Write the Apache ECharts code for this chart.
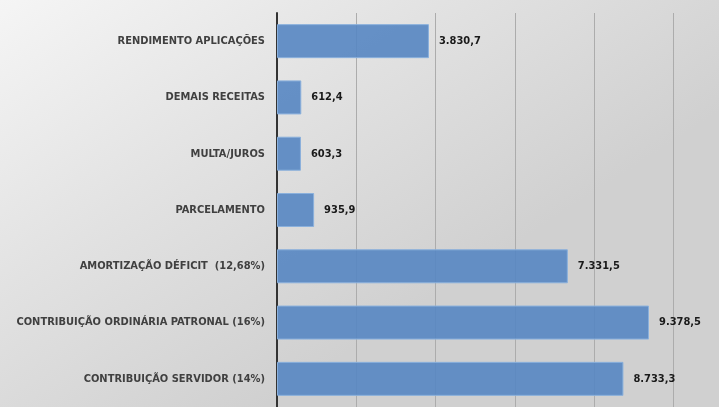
<!DOCTYPE html>
<html>
<head>
<meta charset="UTF-8">
<title></title>
<style>
  html, body { margin: 0; padding: 0; background: #fff; overflow: hidden; }
  #wrap { width: 719px; height: 407px; overflow: hidden; }
</style>
</head>
<body>
<div id="wrap"><div id="box" style="width: 753px;height: 407px;"></div></div>
<script src="https://cdn.jsdelivr.net/npm/echarts@6/dist/echarts.min.js"></script>
<script type="text/javascript">
// categories listed bottom to top (as the y axis draws them)
const categories = [
    'CONTRIBUIÇÃO SERVIDOR (14%)',
    'CONTRIBUIÇÃO ORDINÁRIA PATRONAL (16%)',
    'AMORTIZAÇÃO DÉFICIT  (12,68%)',
    'PARCELAMENTO',
    'MULTA/JUROS',
    'DEMAIS RECEITAS',
    'RENDIMENTO APLICAÇÕES'
];
const values = [8733.3, 9378.5, 7331.5, 935.9, 603.3, 612.4, 3830.7];

function fmt(v) {
    let parts = v.toFixed(1).split('.');
    let int = parts[0].replace(/\B(?=(\d{3})+(?!\d))/g, '.');
    return int + ',' + parts[1];
}

const labelFont = '"Liberation Sans Narrow", "DejaVu Sans Condensed", "Open Sans", sans-serif';

const myChart = echarts.init(document.getElementById('box'));
myChart.setOption({
    backgroundColor: {
        type: 'linear', x: 0, y: 0, x2: 0.35, y2: 1,
        colorStops: [
            { offset: 0, color: '#f5f5f5' },
            { offset: 0.5, color: '#e2e2e2' },
            { offset: 1, color: '#d0d0d0' }
        ]
    },
    animation: false,
    grid: {
        left: 277,
        right: 0,
        top: 13,
        bottom: -4,
        containLabel: false
    },
    xAxis: {
        type: 'value',
        min: 0,
        max: 12000,
        interval: 2000,
        axisLabel: { show: false },
        axisLine: { show: false },
        axisTick: { show: false },
        splitLine: { show: true, lineStyle: { color: '#acacac', width: 1 } }
    },
    yAxis: {
        type: 'category',
        data: categories,
        axisTick: { show: false },
        axisLine: { show: true, lineStyle: { color: '#333333', width: 2 } },
        axisLabel: {
            color: '#404040',
            fontFamily: labelFont,
            fontWeight: 'bold',
            fontSize: 11,
            margin: 12
        }
    },
    series: [{
        type: 'bar',
        data: values,
        barWidth: 34,
        itemStyle: {
            color: 'rgba(86,134,194,0.9)',
            borderColor: '#8ab0dc',
            borderWidth: 1
        },
        label: {
            show: true,
            position: 'right',
            distance: 10,
            color: '#1a1a1a',
            fontFamily: labelFont,
            fontWeight: 'bold',
            fontSize: 11,
            formatter: p => fmt(p.value)
        }
    }]
});
</script>
</body>
</html>
